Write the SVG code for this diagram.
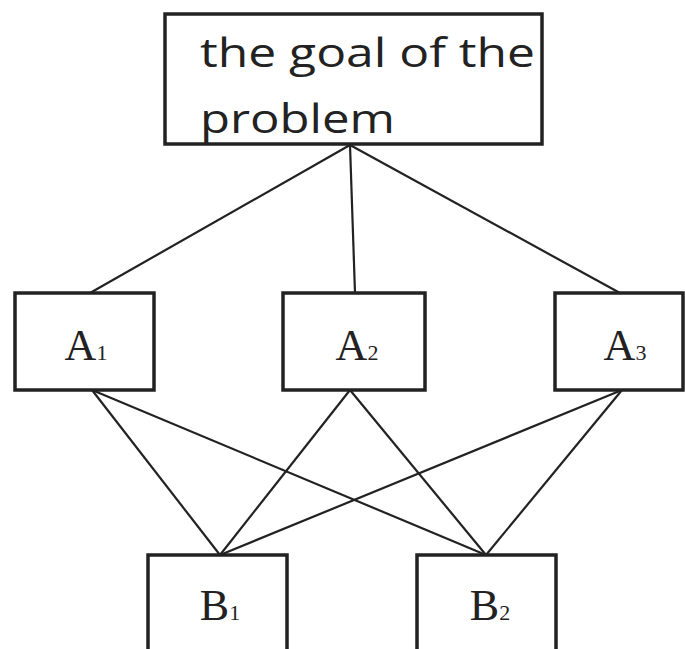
<svg xmlns="http://www.w3.org/2000/svg" width="685" height="649" viewBox="0 0 685 649">
<style>
.box{fill:#fff;stroke:#222;stroke-width:3.5}
.lbl{font-family:"Liberation Serif",serif;font-size:44px;fill:#222;text-anchor:middle}
.sub{font-size:22px}
.goal{font-family:"Open Sans","Liberation Sans",sans-serif;font-size:40px;fill:#222}
.con line{stroke:#222;stroke-width:2.2}
</style>
<rect width="685" height="649" fill="#fff"/>
<g id="connectors" class="con">
<line x1="350" y1="145" x2="90" y2="293"/>
<line x1="350" y1="145" x2="355" y2="293"/>
<line x1="350" y1="145" x2="620" y2="293"/>
<line x1="92" y1="390" x2="220" y2="555"/>
<line x1="92" y1="390" x2="486" y2="555"/>
<line x1="350" y1="390" x2="220" y2="555"/>
<line x1="350" y1="390" x2="486" y2="555"/>
<line x1="622" y1="390" x2="220" y2="555"/>
<line x1="622" y1="390" x2="486" y2="555"/>
</g>
<g id="goal">
<rect class="box" x="165" y="14" width="377" height="130"/>
<text class="goal" x="200" y="67" textLength="335" lengthAdjust="spacingAndGlyphs">the goal of the</text>
<text class="goal" x="200" y="133" textLength="195" lengthAdjust="spacingAndGlyphs">problem</text>
</g>
<g id="A1">
<rect class="box" x="15" y="293" width="139" height="97"/>
<text class="lbl" x="86" y="360">A<tspan class="sub">1</tspan></text>
</g>
<g id="A2">
<rect class="box" x="283" y="293" width="142" height="97"/>
<text class="lbl" x="357" y="360">A<tspan class="sub">2</tspan></text>
</g>
<g id="A3">
<rect class="box" x="555" y="293" width="128" height="97"/>
<text class="lbl" x="625" y="360">A<tspan class="sub">3</tspan></text>
</g>
<g id="B1">
<rect class="box" x="148" y="555" width="139" height="100"/>
<text class="lbl" x="220" y="620">B<tspan class="sub">1</tspan></text>
</g>
<g id="B2">
<rect class="box" x="417" y="555" width="139" height="100"/>
<text class="lbl" x="490" y="620">B<tspan class="sub">2</tspan></text>
</g>
</svg>
